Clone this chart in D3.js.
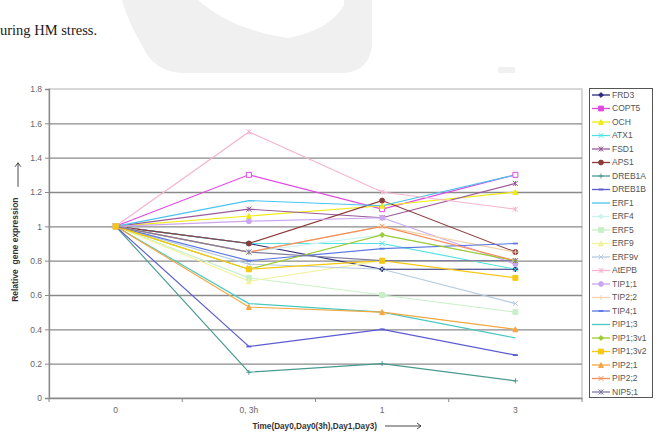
<!DOCTYPE html>
<html>
<head>
<meta charset="utf-8">
<script src="https://cdn.jsdelivr.net/npm/d3@7"></script>
<style>
  body { margin: 0; background: #fff; }
  svg { display: block; }
</style>
</head>
<body>
<div id="grafica"></div>
<script>
// days on the x axis
var days = ["0", "0, 3h", "1", "3"];

var genes = ["FRD3", "COPT5", "OCH", "ATX1", "FSD1", "APS1", "DREB1A", "DREB1B",
  "ERF1", "ERF4", "ERF5", "ERF9", "ERF9v", "AtEPB", "TIP1;1", "TIP2;2", "TIP4;1",
  "PIP1;3", "PIP1;3v1", "PIP1;3v2", "PIP2;1", "PIP2;2", "NIP5;1"];

// relative expression, one row per gene (same order as genes)
var expression = [
  [1, 0.90, 0.75, 0.75],   // FRD3
  [1, 1.30, 1.10, 1.30],   // COPT5
  [1, 1.06, 1.12, 1.20],   // OCH
  [1, 0.90, 0.90, 0.75],   // ATX1
  [1, 1.10, 1.05, 1.25],   // FSD1
  [1, 0.90, 1.15, 0.85],   // APS1
  [1, 0.15, 0.20, 0.10],   // DREB1A
  [1, 0.30, 0.40, 0.25],   // DREB1B
  [1, 1.15, 1.12, 1.30],   // ERF1
  [1, 0.85, 0.95, 0.80],   // ERF4
  [1, 0.70, 0.60, 0.50],   // ERF5
  [1, 0.68, 0.80, 0.80],   // ERF9
  [1, 0.78, 0.75, 0.55],   // ERF9v
  [1, 1.55, 1.20, 1.10],   // AtEPB
  [1, 1.03, 1.05, 0.78],   // TIP1;1
  [1, 0.85, 1.00, 0.85],   // TIP2;2
  [1, 0.80, 0.87, 0.90],   // TIP4;1
  [1, 0.55, 0.50, 0.35],   // PIP1;3
  [1, 0.75, 0.95, 0.80],   // PIP1;3v1
  [1, 0.75, 0.80, 0.70],   // PIP1;3v2
  [1, 0.53, 0.50, 0.40],   // PIP2;1
  [1, 0.85, 1.00, 0.80],   // PIP2;2
  [1, 0.85, 0.80, 0.80]    // NIP5;1
];

var yTicks = [0, 0.2, 0.4, 0.6, 0.8, 1, 1.2, 1.4, 1.6, 1.8];

// excel-ish series colours (washed out like the scan)
var colors = ["#2a2a78", "#e048e4", "#f0ec10", "#50e2e2", "#9a5a9a", "#8c3a3a",
  "#4a9a90", "#5a5ad2", "#48c4f0", "#cdf2f2", "#c8f0c8", "#f2f29c", "#b4cae0",
  "#f4b4cf", "#caa6f0", "#f2d2ac", "#5a78e0", "#48c8c2", "#9ccc30", "#f8c810",
  "#f4a640", "#f48e5a", "#7e7ea4"];

// marker cycle like excel 2003
var markerCycle = ["diamond", "square", "triangle", "x", "star", "circle", "plus", "dash", "none"];

var margin = {top: 89, right: 75, bottom: 45, left: 49},
    width = 657 - margin.left - margin.right,
    height = 443 - margin.top - margin.bottom;

var root = d3.select("#grafica")
  .append("svg")
    .attr("width", 657)
    .attr("height", 443);

// faint watermark left over from the page behind the chart
var wm = root.append("g").attr("fill", "#f0f0f0");
wm.append("path")
  .attr("d", "M122,0 L372,0 L372,45 Q370,70 345,73 L180,73 Q152,70 142,45 Q128,22 122,0 Z");
wm.append("path")
  .attr("fill", "#fff")
  .attr("d", "M198,0 Q232,30 288,38 Q330,30 344,5 L344,0 Z");
wm.append("path")
  .attr("d", "M498,67 L515,67 L515,73 L498,73 Z");

// caption line from the paper
root.append("text")
  .attr("x", 0)
  .attr("y", 35)
  .style("font-family", "'Liberation Serif', 'Times New Roman', serif")
  .style("font-size", "14.5px")
  .style("fill", "#1a1a1a")
  .text("uring HM stress.");

var svg = root.append("g")
  .attr("transform", "translate(" + margin.left + "," + margin.top + ")");

var x = d3.scaleBand()
  .domain(days)
  .range([0, width]);

var y = d3.scaleLinear()
  .domain([0, 1.8])
  .range([height, 0]);

function cx(d) { return x(d) + x.bandwidth() / 2; }

// plot border (light grey)
svg.append("rect")
  .attr("x", 0).attr("y", 0)
  .attr("width", width).attr("height", height)
  .attr("fill", "none")
  .attr("stroke", "#c4c4c4")
  .attr("stroke-width", 1.3);

// horizontal gridlines
svg.append("g")
  .attr("class", "grid")
  .call(d3.axisLeft(y)
    .tickValues(yTicks.filter(function(t) { return t > 0 && t < 1.8; }))
    .tickSize(-width)
    .tickFormat(""))
  .call(function(g) { g.select(".domain").remove(); })
  .selectAll("line")
    .attr("stroke", "#8a8a8a")
    .attr("stroke-width", 1.3);

// y axis
var yAxis = svg.append("g")
  .call(d3.axisLeft(y).tickValues(yTicks).tickSize(4).tickPadding(3)
    .tickFormat(function(d) { return d3.format("")(+d.toFixed(1)); }));
yAxis.select(".domain").attr("stroke", "#8a8a8a").attr("stroke-width", 1.3);
yAxis.selectAll("line").attr("stroke", "#8a8a8a");
yAxis.selectAll("text")
  .style("font-family", "'Liberation Sans', Arial, sans-serif")
  .style("font-size", "8.5px")
  .attr("fill", "#666");

// x axis: labels in the middle, ticks on the band edges
var xAxis = svg.append("g")
  .attr("transform", "translate(0," + height + ")")
  .call(d3.axisBottom(x).tickSize(0).tickPadding(9));
xAxis.select(".domain").attr("stroke", "#8a8a8a").attr("stroke-width", 1.3);
xAxis.selectAll("text")
  .style("font-family", "'Liberation Sans', Arial, sans-serif")
  .style("font-size", "8.5px")
  .attr("fill", "#666");
xAxis.selectAll(".edge")
  .data(days.map(function(d) { return x(d); }).concat([width]))
  .enter().append("line")
    .attr("class", "edge")
    .attr("x1", function(d) { return d; })
    .attr("x2", function(d) { return d; })
    .attr("y1", 0).attr("y2", 4)
    .attr("stroke", "#8a8a8a");

// axis titles with the little arrows
svg.append("text")
  .attr("transform", "translate(-31," + y(0.56) + ") rotate(-90)")
  .attr("text-anchor", "start")
  .style("font-family", "'Liberation Sans', Arial, sans-serif")
  .style("font-size", "8.5px")
  .style("font-weight", "bold")
  .attr("fill", "#333")
  .attr("xml:space", "preserve")
  .text("Relative  gene expression");

var arrowY = svg.append("g").attr("stroke", "#333").attr("fill", "none").attr("stroke-width", 0.9);
arrowY.append("line").attr("x1", -31).attr("x2", -31).attr("y1", y(1.23)).attr("y2", y(1.37));
arrowY.append("polyline").attr("points", (-34) + "," + (y(1.37) + 4) + " -31," + y(1.37) + " -28," + (y(1.37) + 4));

svg.append("text")
  .attr("x", 328)
  .attr("y", height + 31)
  .attr("text-anchor", "end")
  .style("font-family", "'Liberation Sans', Arial, sans-serif")
  .style("font-size", "8.2px")
  .style("font-weight", "bold")
  .attr("fill", "#333")
  .text("Time(Day0,Day0(3h),Day1,Day3)");

var arrowX = svg.append("g").attr("stroke", "#333").attr("fill", "none").attr("stroke-width", 0.9);
arrowX.append("line").attr("x1", 336).attr("x2", 372).attr("y1", height + 28).attr("y2", height + 28);
arrowX.append("polyline").attr("points", "368," + (height + 25) + " 372," + (height + 28) + " 368," + (height + 31));

// marker shapes
function markerPath(type, s) {
  if (type == "diamond") return "M0," + (-s) + "L" + s + ",0L0," + s + "L" + (-s) + ",0Z";
  if (type == "square") return "M" + (-s) + "," + (-s) + "h" + 2 * s + "v" + 2 * s + "h" + (-2 * s) + "Z";
  if (type == "triangle") return "M0," + (-s) + "L" + s + "," + s + "L" + (-s) + "," + s + "Z";
  if (type == "x") return "M" + (-s) + "," + (-s) + "L" + s + "," + s + "M" + (-s) + "," + s + "L" + s + "," + (-s);
  if (type == "star") return "M" + (-s) + "," + (-s) + "L" + s + "," + s + "M" + (-s) + "," + s + "L" + s + "," + (-s) + "M0," + (-s) + "L0," + s;
  if (type == "circle") return d3.symbol().type(d3.symbolCircle).size(Math.PI * s * s)();
  if (type == "plus") return "M" + (-s) + ",0H" + s + "M0," + (-s) + "V" + s;
  if (type == "dash") return "M" + (-s) + ",0H" + s;
  return "";
}
function filled(type) {
  return type == "diamond" || type == "square" || type == "triangle" || type == "circle";
}

var series = genes.map(function(g, i) {
  return {
    name: g,
    color: colors[i],
    marker: markerCycle[i % markerCycle.length],
    values: days.map(function(d, j) { return {day: d, v: expression[i][j]}; })
  };
});

var line = d3.line()
  .x(function(d) { return cx(d.day); })
  .y(function(d) { return y(d.v); });

var lines = svg.append("g");
lines.selectAll("path.line")
  .data(series)
  .enter().append("path")
    .attr("class", "line")
    .attr("fill", "none")
    .attr("stroke", function(d) { return d.color; })
    .attr("stroke-width", 1.15)
    .attr("d", function(d) { return line(d.values); });

// points (gold ones last so they sit on top like in the scan)
var order = d3.range(series.length).filter(function(i) { return i != 19 && i != 20; }).concat([20, 19]);
order.forEach(function(i) {
  var s = series[i];
  lines.selectAll(".pt" + i)
    .data(s.values)
    .enter().append("path")
      .attr("class", "pt" + i)
      .attr("transform", function(d) { return "translate(" + cx(d.day) + "," + y(d.v) + ")"; })
      .attr("d", markerPath(s.marker, 2.5))
      .attr("fill", filled(s.marker) ? (i == 1 ? "#fff" : s.color) : "none")
      .attr("stroke", s.color)
      .attr("stroke-width", s.marker == "dash" ? 1.8 : 1);
});

// Leyenda
var legend = root.append("g");
legend.append("rect")
  .attr("x", 589.5).attr("y", 88.5)
  .attr("width", 63).attr("height", 309)
  .attr("fill", "#fff")
  .attr("stroke", "#555");

var item = legend.selectAll(".item")
  .data(series)
  .enter().append("g")
    .attr("class", "item")
    .attr("transform", function(d, i) { return "translate(601," + (95 + i * 13.5) + ")"; });
item.append("line")
  .attr("x1", -9).attr("x2", 9)
  .attr("stroke", function(d) { return d.color; })
  .attr("stroke-width", 1.3);
item.append("path")
  .attr("d", function(d) { return markerPath(d.marker, 2.4); })
  .attr("fill", function(d) { return filled(d.marker) ? d.color : "none"; })
  .attr("stroke", function(d) { return d.color; })
  .attr("stroke-width", function(d) { return d.marker == "dash" ? 1.8 : 1; });
item.append("text")
  .attr("x", 11)
  .attr("dy", "0.35em")
  .style("font-family", "'Liberation Sans', Arial, sans-serif")
  .style("font-size", "8.5px")
  .attr("fill", "#555")
  .text(function(d) { return d.name; });
</script>
</body>
</html>
